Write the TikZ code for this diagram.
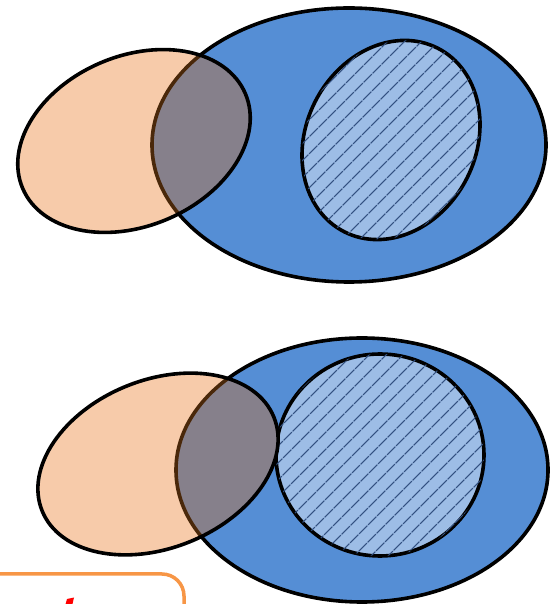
\documentclass[tikz,border=0pt]{standalone}
\usepackage{xcolor}
\usepackage{tikz}
\usetikzlibrary{patterns.meta}
\definecolor{setblue}{RGB}{85,142,213}
\definecolor{lightset}{RGB}{157,189,230}
\definecolor{hatchblue}{RGB}{50,80,128}
\definecolor{peach}{RGB}{247,203,170}
\definecolor{lensgrey}{RGB}{134,128,139}
\definecolor{darkbrown}{RGB}{74,40,10}
\definecolor{frameorange}{RGB}{247,150,70}

\begin{document}
\begin{tikzpicture}[x=1pt,y=1pt,
  outline/.style={draw=black, line width=3.6pt},
  bigset/.style={outline, fill=setblue},
  subset/.style={outline, fill=lightset,
                 postaction={pattern={Lines[angle=45,distance=13pt,line width=1.4pt]},
                             pattern color=hatchblue}},
  lensline/.style={draw=darkbrown, line width=3.6pt}]
  \useasboundingbox (0,0) rectangle (554,604);
  \clip (0,0) rectangle (554,604);

  % upper diagram
  \path[bigset] (349,459) ellipse [x radius=197, y radius=137];
  \path[subset, rotate around={63:(391,464)}] (391,464) ellipse [x radius=103, y radius=85];
  \fill[peach, rotate around={23:(134,463)}] (134,463) ellipse [x radius=121, y radius=85];
  \begin{scope}
    \clip[rotate around={23:(134,463)}] (134,463) ellipse [x radius=121, y radius=85];
    \fill[lensgrey] (349,459) ellipse [x radius=197, y radius=137];
    \path[lensline] (349,459) ellipse [x radius=197, y radius=137];
  \end{scope}
  \path[outline, rotate around={23:(134,463)}] (134,463) ellipse [x radius=121, y radius=85];

  % lower diagram
  \path[bigset] (362,134) ellipse [x radius=186, y radius=132];
  \path[subset] (380,149) ellipse [x radius=104, y radius=101];
  \fill[peach, rotate around={22:(158,140)}] (158,140) ellipse [x radius=125, y radius=84];
  \begin{scope}
    \clip[rotate around={22:(158,140)}] (158,140) ellipse [x radius=125, y radius=84];
    \fill[lensgrey] (362,134) ellipse [x radius=186, y radius=132];
    \path[lensline] (362,134) ellipse [x radius=186, y radius=132];
  \end{scope}
  \path[outline, rotate around={22:(158,140)}] (158,140) ellipse [x radius=125, y radius=84];

  % cut-off frame at the bottom
  \draw[frameorange, line width=3.5pt, rounded corners=22pt] (-5,30) -- (184,30) -- (184,-20);
  \fill[red] (65,-2) -- (67,5) -- (74,6.5) -- (72,-2) -- cycle;
\end{tikzpicture}
\end{document}
